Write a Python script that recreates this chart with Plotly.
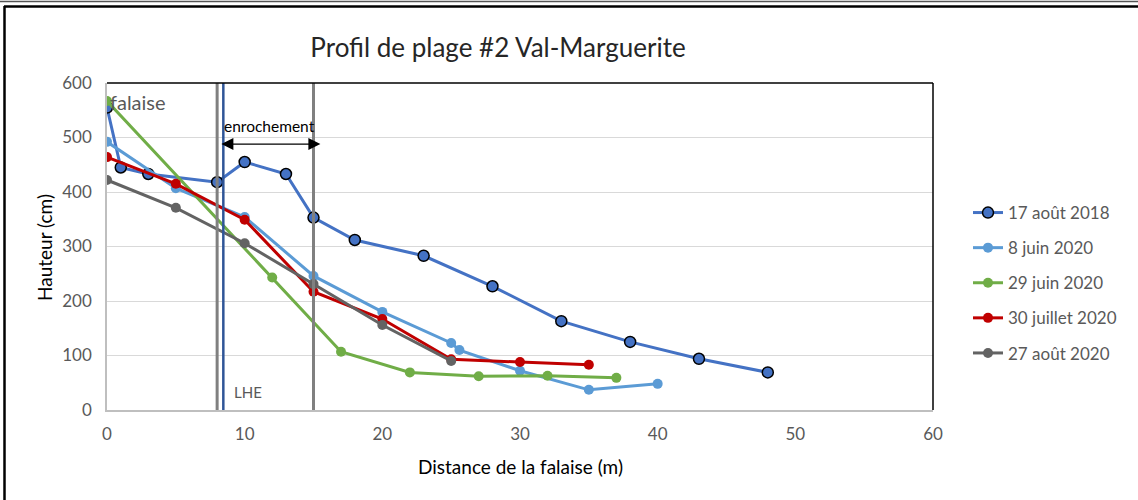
import plotly.graph_objects as go

# ---- data ----
series_names = ["17 août 2018", "8 juin 2020", "29 juin 2020", "30 juillet 2020", "27 août 2020"]

x_aout2018 = [0, 1, 3, 8, 10, 13, 15, 18, 23, 28, 33, 38, 43, 48]
y_aout2018 = [555, 445, 433, 418, 455, 433, 353, 312, 283, 227, 163, 125, 94, 69]

x_juin8 = [0, 5, 10, 15, 20, 25, 25.6, 30, 35, 40]
y_juin8 = [492, 407, 354, 246, 180, 123, 110, 72, 37, 48]

x_juin29 = [0, 12, 17, 22, 27, 32, 37]
y_juin29 = [567, 243, 107, 69, 62, 63, 59]

x_juil30 = [0, 5, 10, 15, 20, 25, 30, 35]
y_juil30 = [464, 415, 349, 217, 167, 93, 88, 83]

x_aout2020 = [0, 5, 10, 15, 20, 25]
y_aout2020 = [422, 371, 306, 231, 156, 90]

x_ticks = [0, 10, 20, 30, 40, 50, 60]
y_ticks = [0, 100, 200, 300, 400, 500, 600]

enrochement_limits = [8, 15]   # grey vertical lines (m)
lhe_position = 8.45            # blue vertical line (m)

FONT = "Lato"
colors = ["#4472C4", "#5B9BD5", "#70AD47", "#C00000", "#636363"]

fig = go.Figure()
data = [(x_aout2018, y_aout2018), (x_juin8, y_juin8), (x_juin29, y_juin29),
        (x_juil30, y_juil30), (x_aout2020, y_aout2020)]
for i, ((xs, ys), name, c) in enumerate(zip(data, series_names, colors)):
    marker = dict(size=10, color=c)
    if i == 0:
        marker = dict(size=11, color=c, line=dict(color="black", width=1.5))
    fig.add_trace(go.Scatter(x=xs, y=ys, name=name, mode="lines+markers",
                             line=dict(color=c, width=3), marker=marker,
                             legendgroup=str(i)))

shapes = []
for xv in enrochement_limits:
    shapes.append(dict(type="line", xref="x", yref="y", x0=xv, x1=xv, y0=0, y1=600,
                       line=dict(color="#808080", width=3), layer="above"))
shapes.append(dict(type="line", xref="x", yref="y", x0=lhe_position, x1=lhe_position, y0=0, y1=600,
                   line=dict(color="#2F5597", width=2.5), layer="above"))
# plot-area black top & right edges
shapes.append(dict(type="line", xref="paper", yref="paper", x0=0, x1=1, y0=1, y1=1,
                   line=dict(color="black", width=1.5)))
shapes.append(dict(type="line", xref="paper", yref="paper", x0=1, x1=1, y0=0, y1=1,
                   line=dict(color="black", width=1.5)))

# outer frame (pixel -> paper conversion)
L, R, T, B = 107, 933, 83, 410
def px(v): return (v - L) / (R - L)
def py(v): return (B - v) / (B - T)
shapes.append(dict(type="line", xref="paper", yref="paper", x0=px(0), x1=px(1138), y0=py(1.5), y1=py(1.5),
                   line=dict(color="#555555", width=1.5)))
shapes.append(dict(type="line", xref="paper", yref="paper", x0=px(4), x1=px(1138), y0=py(6.5), y1=py(6.5),
                   line=dict(color="black", width=2.5)))
shapes.append(dict(type="line", xref="paper", yref="paper", x0=px(4.5), x1=px(4.5), y0=py(6), y1=py(500),
                   line=dict(color="black", width=2.5)))

annotations = [
    dict(x=0.1, y=565, xref="x", yref="y", text="falaise", showarrow=False, xanchor="left",
         font=dict(family=FONT, size=20, color="#595959")),
    dict(x=11.8, y=521, xref="x", yref="y", text="enrochement", showarrow=False,
         font=dict(family=FONT, size=15.5, color="black")),
    dict(x=9.1, y=33, xref="x", yref="y", text="LHE", showarrow=False, xanchor="left",
         font=dict(family=FONT, size=15, color="#595959")),
    dict(x=15.5, y=488, ax=8.2, ay=488, xref="x", yref="y", axref="x", ayref="y", text="",
         showarrow=True, arrowhead=2, arrowside="end+start", arrowsize=2, arrowwidth=1.2,
         arrowcolor="black"),
    dict(x=px(45), y=py(247), xref="paper", yref="paper", text="Hauteur (cm)", textangle=-90,
         xanchor="center", yanchor="middle",
         showarrow=False, font=dict(family=FONT, size=19, color="black")),
    dict(x=px(520), y=py(466), xref="paper", yref="paper", text="Distance de la falaise (m)",
         xanchor="center", yanchor="middle",
         showarrow=False, font=dict(family=FONT, size=19, color="black")),
]

fig.update_layout(
    width=1138, height=500,
    margin=dict(l=L, r=1138 - R, t=T, b=500 - B),
    paper_bgcolor="white", plot_bgcolor="white",
    title=dict(text="Profil de plage #2 Val-Marguerite", x=498 / 1138, xref="container", xanchor="center",
               y=1 - 48 / 500, yref="container", yanchor="middle",
               font=dict(family=FONT, size=26, color="#262626")),
    xaxis=dict(range=[0, 60], tickvals=x_ticks, showgrid=False, showline=True, linecolor="#BFBFBF",
               linewidth=1.5, ticks="outside", ticklen=8, tickcolor="rgba(0,0,0,0)",
               tickfont=dict(family=FONT, size=17, color="#595959"), zeroline=False),
    yaxis=dict(range=[0, 600], tickvals=y_ticks, showgrid=True, gridcolor="#D9D9D9", gridwidth=1,
               showline=True, linecolor="#BFBFBF", linewidth=1.5, ticks="outside", ticklen=10,
               tickcolor="rgba(0,0,0,0)",
               tickfont=dict(family=FONT, size=17, color="#595959"), zeroline=False),
    legend=dict(x=px(968), y=py(195), xanchor="left", yanchor="top", traceorder="grouped",
                tracegroupgap=10, font=dict(family=FONT, size=17, color="#595959"),
                bgcolor="rgba(0,0,0,0)"),
    shapes=shapes, annotations=annotations,
)

fig.write_html("out.html", config={"displayModeBar": False},
               post_script="document.body.style.margin='0px';")
